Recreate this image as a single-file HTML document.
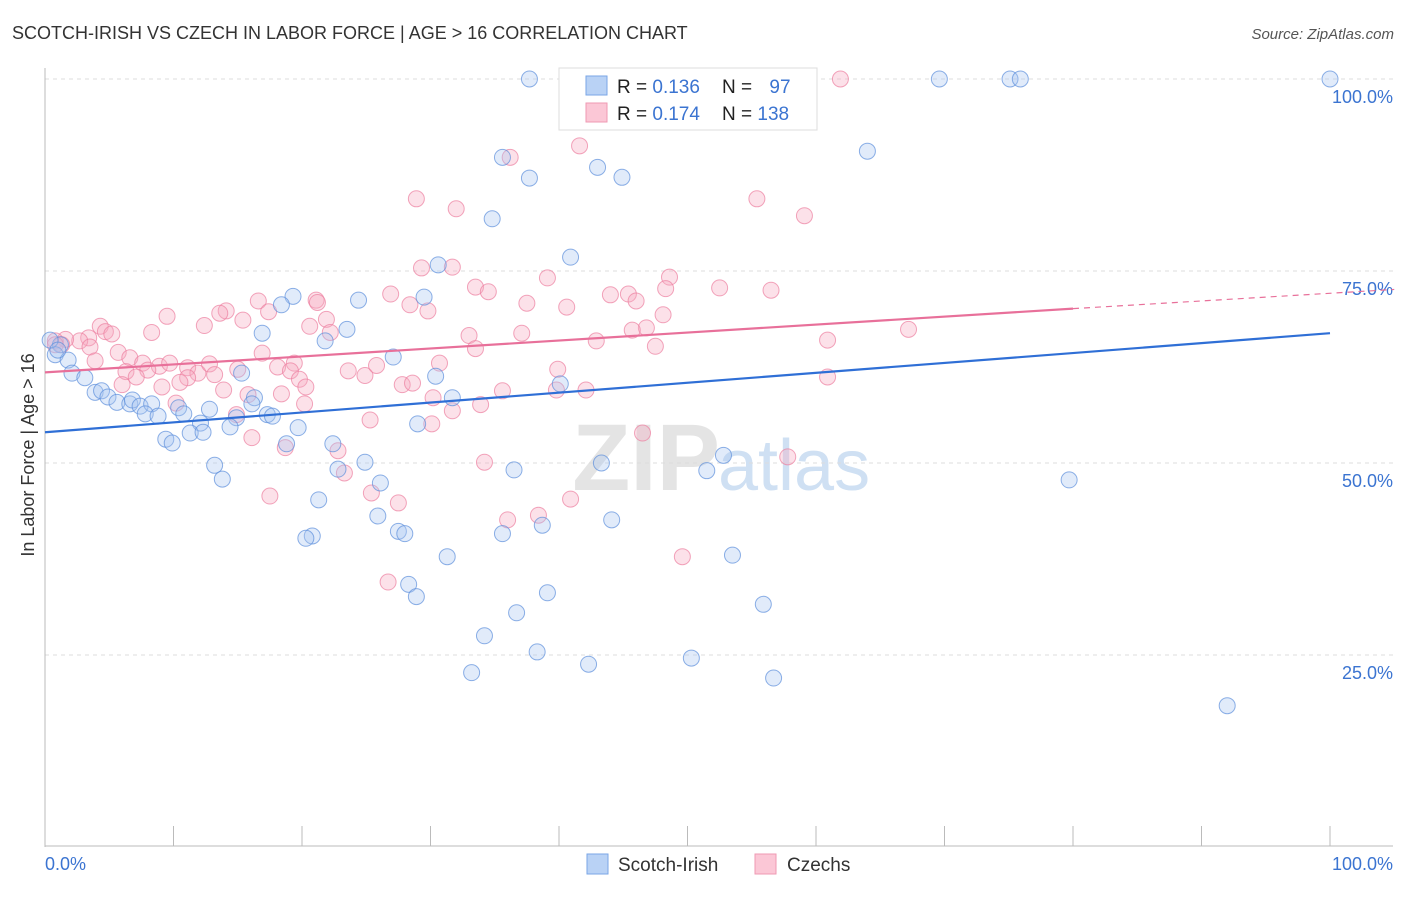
<!DOCTYPE html>
<html><head><meta charset="utf-8"><style>
body{margin:0;background:#fff;font-family:"Liberation Sans",sans-serif;}
svg text{font-family:"Liberation Sans",sans-serif;}
</style></head><body>
<svg id="chart" width="1406" height="892" viewBox="0 0 1406 892">
<text x="12" y="39" font-size="18" fill="#333">SCOTCH-IRISH VS CZECH IN LABOR FORCE | AGE &gt; 16 CORRELATION CHART</text>
<text x="1394" y="39" font-size="15" fill="#555" font-style="italic" text-anchor="end">Source: ZipAtlas.com</text>
<text x="720" y="490" font-size="95" font-weight="bold" fill="#e4e4e4" text-anchor="end" font-family="Liberation Serif">ZIP</text>
<text x="718" y="490" font-size="72" fill="#cfe0f3">atlas</text>
<g id="grid"></g>
<g id="axes"></g>
<g id="pts"></g>
<g id="lines"></g>
<text x="34" y="455" font-size="18" fill="#333" text-anchor="middle" transform="rotate(-90 34 455)">In Labor Force | Age &gt; 16</text>
<g>
<rect x="559" y="68" width="258" height="62" fill="#fff" stroke="#ddd"/>
<rect x="586" y="76" width="21" height="19" fill="#b9d2f5" stroke="#7aa6e6"/>
<rect x="586" y="103" width="21" height="19" fill="#fbc7d6" stroke="#ef9ab3"/>
<text x="617" y="93" font-size="19" fill="#222">R = <tspan fill="#3b74d1">0.136</tspan></text>
<text x="722" y="93" font-size="19" fill="#222">N = <tspan fill="#3b74d1" dx="12">97</tspan></text>
<text x="617" y="120" font-size="19" fill="#222">R = <tspan fill="#3b74d1">0.174</tspan></text>
<text x="722" y="120" font-size="19" fill="#222">N = <tspan fill="#3b74d1">138</tspan></text>
</g>
<g>
<rect x="587" y="854" width="21" height="20" fill="#b9d2f5" stroke="#7aa6e6"/>
<text x="618" y="871" font-size="19" fill="#333">Scotch-Irish</text>
<rect x="755" y="854" width="21" height="20" fill="#fbc7d6" stroke="#ef9ab3"/>
<text x="787" y="871" font-size="19" fill="#333">Czechs</text>
</g>
</svg>
<script>
const yTicks=[25,50,75,100];
const yTickLabels=["25.0%","50.0%","75.0%","100.0%"];
const xTickLabels=["0.0%","100.0%"];
const blueX=[37.7,69.6,75.1,75.9,100,35.6,64.0,43.0,44.9,37.7,34.8,40.9,30.6,19.3,24.4,29.5,18.4,23.5,16.9,21.8,27.1,1.2,0.8,1.8,2.1,3.1,30.4,15.3,40.1,3.9,4.4,4.9,5.6,6.6,6.8,7.4,8.3,7.8,8.8,10.4,10.8,12.8,16.3,16.1,17.3,17.7,14.9,14.4,12.1,11.3,12.3,9.4,9.9,19.7,18.8,22.4,31.7,29.0,24.9,22.8,13.2,13.8,26.1,36.5,43.3,52.8,51.5,79.7,21.3,25.9,27.5,28.0,20.8,20.3,38.7,44.1,35.6,31.3,53.5,28.3,28.9,39.1,55.9,36.7,34.2,38.3,42.3,50.3,33.2,56.7,92.0,0.4,1.0];
const blueY=[100,100,100,100,100,89.8,90.6,88.5,87.2,87.1,81.8,76.8,75.8,71.7,71.2,71.6,70.6,67.4,66.9,65.9,63.8,65.4,64.1,63.4,61.7,61.1,61.3,61.7,60.3,59.2,59.4,58.6,57.9,57.7,58.2,57.4,57.7,56.4,56.1,57.2,56.4,57.0,58.5,57.7,56.3,56.1,55.9,54.7,55.2,53.9,54.0,53.1,52.6,54.6,52.5,52.5,58.5,55.1,50.1,49.2,49.7,47.9,47.4,49.1,50.0,51.0,49.0,47.8,45.2,43.1,41.1,40.8,40.5,40.2,41.9,42.6,40.8,37.8,38.0,34.2,32.6,33.1,31.6,30.5,27.5,25.4,23.8,24.6,22.7,22.0,18.4,66.0,64.7];
const pinkX=[61.9,44.9,36.2,41.6,28.9,32.0,55.4,59.1,29.3,31.7,39.1,48.6,33.5,34.5,26.9,45.4,48.3,52.5,56.5,44.0,46.0,37.5,40.6,28.4,29.8,21.1,21.2,16.6,17.4,14.1,13.6,9.5,15.4,12.4,21.9,20.6,22.2,48.1,46.8,45.7,37.1,33.0,67.2,60.9,42.9,47.5,33.5,8.3,4.3,4.7,5.2,3.4,2.7,1.6,0.8,1.3,3.5,5.7,3.9,6.6,7.6,8.9,8.0,6.3,7.1,6.0,9.7,11.1,11.9,12.8,13.2,11.1,10.5,9.1,13.9,15.0,16.9,19.4,18.1,19.1,19.8,20.3,18.4,15.8,14.9,10.2,23.6,24.9,25.8,30.7,27.8,28.6,30.2,31.7,33.9,35.6,39.9,39.8,42.1,60.9,20.2,25.3,30.1,16.1,18.7,22.8,23.3,25.4,27.5,17.5,34.2,46.5,57.8,40.9,36.0,38.4,49.6,26.7,0.8];
const pinkY=[100,99.5,89.8,91.3,84.4,83.1,84.4,82.2,75.4,75.5,74.1,74.2,72.9,72.3,72.0,72.0,72.7,72.8,72.5,71.9,71.1,70.8,70.3,70.6,69.8,71.2,70.9,71.1,69.7,69.8,69.5,69.1,68.6,67.9,68.7,67.8,67.0,69.3,67.6,67.3,66.9,66.6,67.4,66.0,65.9,65.2,64.9,67.0,67.8,67.1,66.8,66.3,65.9,66.1,65.9,65.4,65.1,64.4,63.3,63.7,63.0,62.6,62.1,61.9,61.2,60.2,63.0,62.4,61.7,62.9,61.5,61.1,60.5,59.9,59.5,62.2,64.3,63.0,62.5,62.0,60.9,59.9,59.0,58.9,56.3,57.8,62.0,61.4,62.7,63.0,60.2,60.4,58.5,56.8,57.6,59.4,62.2,59.5,59.5,61.2,57.7,55.6,55.1,53.3,52.0,51.6,48.7,46.1,44.8,45.7,50.1,53.9,50.8,45.3,42.6,43.2,37.8,34.5,65.4];
const blueTrend=[0,54.0,100,66.9];
const pinkTrend=[0,61.8,80,70.1,105,72.6];
const NS="http://www.w3.org/2000/svg";
const X0=45,X1=1330,Y0=847,Y100=79;
function sx(v){return X0+(X1-X0)*v/100;}
function sy(v){return Y0-(Y0-Y100)*v/100;}
function mk(tag,attrs,parent){const e=document.createElementNS(NS,tag);for(const k in attrs)e.setAttribute(k,attrs[k]);parent.appendChild(e);return e;}
const grid=document.getElementById('grid'),axes=document.getElementById('axes'),pts=document.getElementById('pts'),lines=document.getElementById('lines');
yTicks.forEach((t,i)=>{
 const l=mk('line',{x1:45,x2:1393,y1:sy(t),y2:sy(t),stroke:'#ddd','stroke-dasharray':'4,4'},grid);
 
 
 const tx=mk('text',{x:1393,y:sy(t)+24,'font-size':18,fill:'#3b74d1','text-anchor':'end'},axes);
 tx.textContent=yTickLabels[i];
 
 
});
const ax=mk('line',{x1:45,x2:45,y1:68,y2:847,stroke:'#bbb'},axes);


const bx=mk('line',{x1:45,x2:1393,y1:846,y2:846,stroke:'#bbb'},axes);


for(let i=0;i<=10;i++){
 const t=mk('line',{x1:sx(i*10),x2:sx(i*10),y1:826,y2:846,stroke:'#bbb'},axes);
 
 
}
[[0,'start',45],[100,'end',1393]].forEach((d,i)=>{
 const tx=mk('text',{x:d[2],y:870,'font-size':18,fill:'#3b74d1','text-anchor':d[1]},axes);
 tx.textContent=xTickLabels[i];
 
 
});
function drawPts(xs,ys,fill,stroke,name){
 xs.forEach((x,i)=>{
  const c=mk('circle',{cx:sx(x),cy:sy(ys[i]),r:8,fill:fill,'fill-opacity':0.35,stroke:stroke,'stroke-opacity':0.7,'stroke-width':1},pts);
  
  
 });
}
drawPts(pinkX,pinkY,'#f7a8c0','#ec7fa0','czech-point');
drawPts(blueX,blueY,'#a9c6f2','#5c8fdc','scotch-irish-point');
const bl=mk('line',{x1:sx(blueTrend[0]),y1:sy(blueTrend[1]),x2:sx(blueTrend[2]),y2:sy(blueTrend[3]),stroke:'#2f6fd6','stroke-width':2.2},lines);


const pl=mk('line',{x1:sx(pinkTrend[0]),y1:sy(pinkTrend[1]),x2:sx(pinkTrend[2]),y2:sy(pinkTrend[3]),stroke:'#e8709a','stroke-width':2.2},lines);


const pd=mk('line',{x1:sx(pinkTrend[2]),y1:sy(pinkTrend[3]),x2:sx(pinkTrend[4]),y2:sy(pinkTrend[5]),stroke:'#e8709a','stroke-width':1.2,'stroke-dasharray':'6,5'},lines);


</script>
</body></html>
